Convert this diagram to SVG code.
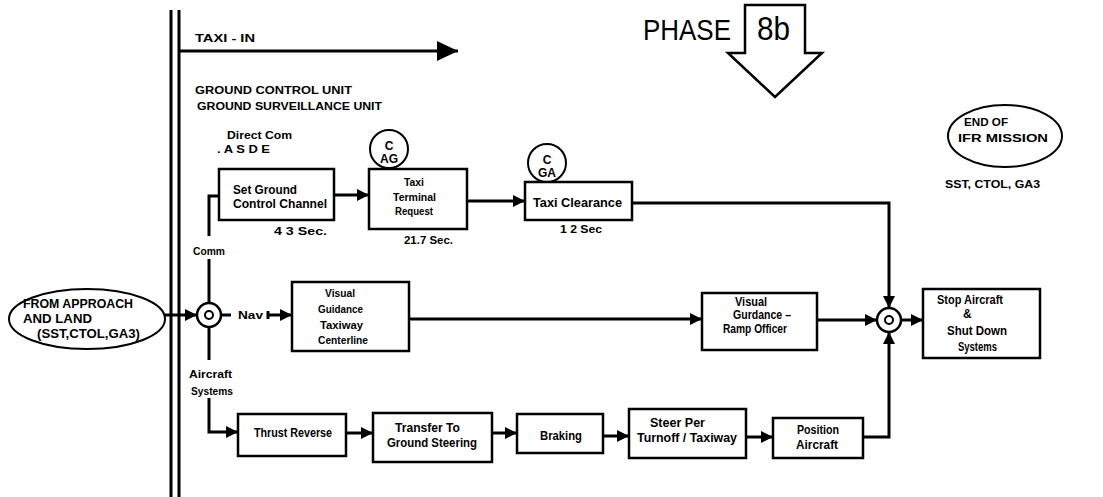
<svg xmlns="http://www.w3.org/2000/svg" width="1103" height="497" viewBox="0 0 1103 497">
<style>
.t{font-family:"Liberation Sans",Arial,sans-serif;font-weight:bold;font-size:12px;fill:#000}
.h{font-size:11px}
.r{font-family:"Liberation Sans",Arial,sans-serif;fill:#000}
.b{fill:#fff;stroke:#000;stroke-width:2.5}
.e{fill:#fff;stroke:#000;stroke-width:2}
.c{fill:none;stroke:#000;stroke-width:3}
.m{text-anchor:middle}
</style>
<defs>
<marker id="ah" viewBox="0 0 12 12" refX="12" refY="6" markerWidth="14" markerHeight="12" markerUnits="userSpaceOnUse" orient="auto"><path d="M0,0 L12,6 L0,12 z" fill="#000"/></marker>
<marker id="big" viewBox="0 0 21 20" refX="21" refY="10" markerWidth="21" markerHeight="20" markerUnits="userSpaceOnUse" orient="auto"><path d="M0,0 L21,10 L0,20 z" fill="#000"/></marker>
</defs>
<rect width="1103" height="497" fill="#fff"/>

<g id="boundary">
<line x1="171" y1="10" x2="171" y2="497" class="c"/>
<line x1="179" y1="10" x2="179" y2="497" class="c"/>
</g>

<g id="header">
<text class="t h" x="195" y="42" textLength="60" lengthAdjust="spacingAndGlyphs">TAXI - IN</text>
<line x1="180" y1="51" x2="458" y2="51" class="c" marker-end="url(#big)"/>
<text class="t h" x="195" y="94" textLength="157" lengthAdjust="spacingAndGlyphs">GROUND CONTROL UNIT</text>
<text class="t h" x="197" y="110" textLength="185" lengthAdjust="spacingAndGlyphs">GROUND SURVEILLANCE UNIT</text>
<text class="t h" x="227" y="139" textLength="65" lengthAdjust="spacingAndGlyphs">Direct Com</text>
<text class="t h" x="217" y="153" textLength="53" lengthAdjust="spacingAndGlyphs">. A S D E</text>
</g>

<g id="phase">
<text class="r" x="643" y="40" style="font-size:30px" textLength="88" lengthAdjust="spacingAndGlyphs">PHASE</text>
<polygon points="745,5 805,5 805,53 822,53 775,97 728,53 745,53" fill="#fff" stroke="#000" stroke-width="2.5"/>
<text class="r" x="757" y="40" style="font-size:34px" textLength="33" lengthAdjust="spacingAndGlyphs">8b</text>
</g>

<g id="end-of-mission">
<ellipse cx="1005" cy="136" rx="57" ry="31" class="e"/>
<text class="t h" x="964" y="126" textLength="44" lengthAdjust="spacingAndGlyphs">END OF</text>
<text class="t h" x="958" y="142" textLength="90" lengthAdjust="spacingAndGlyphs">IFR MISSION</text>
<text class="t h" x="945" y="188" textLength="95" lengthAdjust="spacingAndGlyphs">SST, CTOL, GA3</text>
</g>

<g id="connectors">
<path d="M165,315 H197" class="c" marker-end="url(#ah)"/>
<path d="M209,303 V259" class="c"/>
<path d="M209,236 V196 H219" class="c"/>
<path d="M221,315 H231" class="c"/>
<path d="M268,315 H292" class="c" marker-end="url(#ah)"/>
<path d="M268,311 V319" class="c"/>
<path d="M209,327 V360" class="c"/>
<path d="M209,398 V432 H238" class="c" marker-end="url(#ah)"/>
<path d="M334,195 H369" class="c" marker-end="url(#ah)"/>
<path d="M467,201 H525" class="c" marker-end="url(#ah)"/>
<path d="M632,203 H889 V308" class="c" marker-end="url(#ah)"/>
<path d="M409,319 H702" class="c" marker-end="url(#ah)"/>
<path d="M817,320 H877" class="c" marker-end="url(#ah)"/>
<path d="M901,320 H923" class="c" marker-end="url(#ah)"/>
<path d="M346,433 H373" class="c" marker-end="url(#ah)"/>
<path d="M492,433 H517" class="c" marker-end="url(#ah)"/>
<path d="M603,436 H629" class="c" marker-end="url(#ah)"/>
<path d="M746,437 H773" class="c" marker-end="url(#ah)"/>
<path d="M863,437 H889 V332" class="c" marker-end="url(#ah)"/>
<text class="t h" x="193" y="255" textLength="32" lengthAdjust="spacingAndGlyphs">Comm</text>
<text class="t h" x="238" y="319" textLength="25" lengthAdjust="spacingAndGlyphs">Nav</text>
<text class="t h" x="189" y="378" textLength="43" lengthAdjust="spacingAndGlyphs">Aircraft</text>
<text class="t h" x="191" y="395" textLength="42" lengthAdjust="spacingAndGlyphs">Systems</text>
</g>

<g id="from-approach">
<ellipse cx="87" cy="319" rx="78" ry="30" class="e"/>
<text class="t" x="23" y="308" textLength="110" lengthAdjust="spacingAndGlyphs">FROM APPROACH</text>
<text class="t" x="23" y="323" textLength="69" lengthAdjust="spacingAndGlyphs">AND LAND</text>
<text class="t" x="37" y="338" textLength="103" lengthAdjust="spacingAndGlyphs">(SST,CTOL,GA3)</text>
</g>

<g id="junction-left">
<circle cx="209" cy="315" r="12" class="b"/>
<circle cx="209" cy="315" r="4" fill="none" stroke="#000" stroke-width="2"/>
</g>

<g id="set-ground-control-channel">
<rect x="219" y="169" width="115" height="51" class="b"/>
<text class="t" x="233" y="194" textLength="64" lengthAdjust="spacingAndGlyphs">Set Ground</text>
<text class="t" x="233" y="208" textLength="94" lengthAdjust="spacingAndGlyphs">Control Channel</text>
<text class="t h" x="274" y="235" textLength="53" lengthAdjust="spacingAndGlyphs">4 3 Sec.</text>
</g>

<g id="taxi-terminal-request">
<circle cx="389" cy="149" r="19" class="e"/>
<text class="t m" x="389" y="150">C</text>
<text class="t m" x="389" y="163">AG</text>
<rect x="369" y="169" width="98" height="60" class="b"/>
<text class="t h" x="404" y="186" textLength="20" lengthAdjust="spacingAndGlyphs">Taxi</text>
<text class="t h" x="393" y="201" textLength="43" lengthAdjust="spacingAndGlyphs">Terminal</text>
<text class="t h" x="395" y="215" textLength="38" lengthAdjust="spacingAndGlyphs">Request</text>
<text class="t h" x="404" y="244" textLength="49" lengthAdjust="spacingAndGlyphs">21.7 Sec.</text>
</g>

<g id="taxi-clearance">
<circle cx="547" cy="163" r="19" class="e"/>
<text class="t m" x="547" y="164">C</text>
<text class="t m" x="547" y="177">GA</text>
<rect x="525" y="182" width="107" height="38" class="b"/>
<text class="t" x="533" y="207" textLength="89" lengthAdjust="spacingAndGlyphs">Taxi  Clearance</text>
<text class="t h" x="560" y="233" textLength="42" lengthAdjust="spacingAndGlyphs">1 2 Sec</text>
</g>

<g id="visual-guidance-centerline">
<rect x="292" y="282" width="117" height="69" class="b"/>
<text class="t h" x="325" y="297" textLength="30" lengthAdjust="spacingAndGlyphs">Visual</text>
<text class="t h" x="318" y="313" textLength="45" lengthAdjust="spacingAndGlyphs">Guidance</text>
<text class="t h" x="320" y="329" textLength="43" lengthAdjust="spacingAndGlyphs">Taxiway</text>
<text class="t h" x="318" y="344" textLength="50" lengthAdjust="spacingAndGlyphs">Centerline</text>
</g>

<g id="visual-guidance-ramp">
<rect x="702" y="293" width="115" height="57" class="b"/>
<text class="t" x="735" y="306" textLength="32" lengthAdjust="spacingAndGlyphs">Visual</text>
<text class="t" x="733" y="319" textLength="58" lengthAdjust="spacingAndGlyphs">Gurdance –</text>
<text class="t" x="723" y="333" textLength="64" lengthAdjust="spacingAndGlyphs">Ramp Officer</text>
</g>

<g id="junction-right">
<circle cx="889" cy="320" r="12" class="b"/>
<circle cx="889" cy="320" r="4" fill="none" stroke="#000" stroke-width="2"/>
</g>

<g id="stop-aircraft">
<rect x="923" y="289" width="117" height="69" class="b"/>
<text class="t" x="937" y="304" textLength="66" lengthAdjust="spacingAndGlyphs">Stop Aircraft</text>
<text class="t" x="963" y="318">&amp;</text>
<text class="t" x="947" y="335" textLength="60" lengthAdjust="spacingAndGlyphs">Shut Down</text>
<text class="t" x="958" y="351" textLength="39" lengthAdjust="spacingAndGlyphs">Systems</text>
</g>

<g id="thrust-reverse">
<rect x="238" y="414" width="108" height="42" class="b"/>
<text class="t" x="254" y="437" textLength="78" lengthAdjust="spacingAndGlyphs">Thrust Reverse</text>
</g>

<g id="transfer-to-ground-steering">
<rect x="373" y="413" width="119" height="49" class="b"/>
<text class="t" x="395" y="432" textLength="65" lengthAdjust="spacingAndGlyphs">Transfer  To</text>
<text class="t" x="387" y="447" textLength="90" lengthAdjust="spacingAndGlyphs">Ground Steering</text>
</g>

<g id="braking">
<rect x="517" y="414" width="86" height="39" class="b"/>
<text class="t" x="540" y="440" textLength="42" lengthAdjust="spacingAndGlyphs">Braking</text>
</g>

<g id="steer-per-turnoff">
<rect x="629" y="409" width="117" height="49" class="b"/>
<text class="t" x="650" y="427" textLength="55" lengthAdjust="spacingAndGlyphs">Steer  Per</text>
<text class="t" x="637" y="442" textLength="100" lengthAdjust="spacingAndGlyphs">Turnoff / Taxiway</text>
</g>

<g id="position-aircraft">
<rect x="773" y="418" width="90" height="40" class="b"/>
<text class="t" x="797" y="434" textLength="42" lengthAdjust="spacingAndGlyphs">Position</text>
<text class="t" x="796" y="449" textLength="42" lengthAdjust="spacingAndGlyphs">Aircraft</text>
</g>
</svg>
